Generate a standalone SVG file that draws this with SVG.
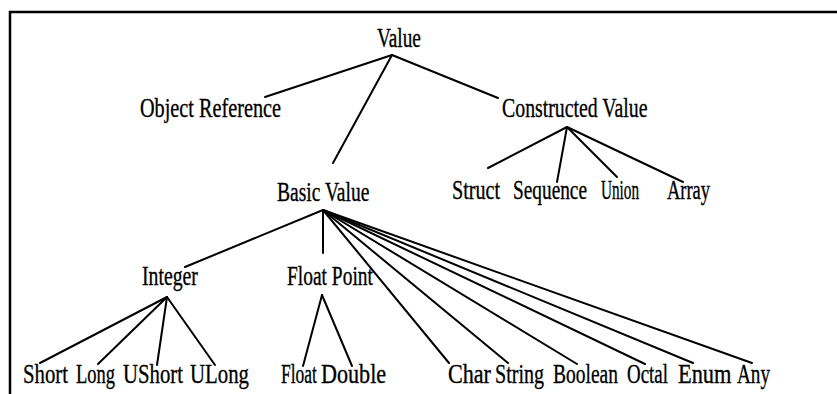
<svg xmlns="http://www.w3.org/2000/svg" width="837" height="394" viewBox="0 0 837 394">
<style>
.t{font-family:"Liberation Serif","Times New Roman",serif;font-size:28px;fill:#000;stroke:#000;stroke-width:0.35}
.c line{stroke:#000;stroke-width:2;stroke-linecap:round}
.frame{fill:none;stroke:#000;stroke-width:2.5}
</style>
<rect width="837" height="394" fill="#fff"/>
<path class="frame" d="M10,394 V12 H837"/>
<g id="connectors" class="c">
<line x1="392" y1="55" x2="265" y2="97"/>
<line x1="392" y1="55" x2="333" y2="163"/>
<line x1="392" y1="55" x2="498" y2="98"/>
<line x1="567" y1="127" x2="488" y2="168"/>
<line x1="567" y1="127" x2="557" y2="182"/>
<line x1="567" y1="127" x2="617" y2="177"/>
<line x1="567" y1="127" x2="683" y2="182"/>
<line x1="323" y1="210" x2="185" y2="267"/>
<line x1="323" y1="210" x2="323" y2="253"/>
<line x1="323" y1="210" x2="449" y2="363"/>
<line x1="323" y1="210" x2="508" y2="363"/>
<line x1="323" y1="210" x2="577" y2="364"/>
<line x1="323" y1="210" x2="645" y2="364"/>
<line x1="323" y1="210" x2="693" y2="363"/>
<line x1="323" y1="210" x2="752" y2="363"/>
<line x1="167" y1="297" x2="40" y2="363"/>
<line x1="167" y1="297" x2="98" y2="364"/>
<line x1="167" y1="297" x2="157" y2="365"/>
<line x1="167" y1="297" x2="215" y2="365"/>
<line x1="322" y1="295" x2="303" y2="366"/>
<line x1="322" y1="295" x2="352" y2="366"/>
</g>
<g id="value"><text class="t" transform="translate(377,47) scale(0.688,1)">Value</text></g>
<g id="object-reference"><text class="t" transform="translate(140,117) scale(0.723,1)">Object Reference</text></g>
<g id="constructed-value"><text class="t" transform="translate(502,117) scale(0.708,1)">Constructed Value</text></g>
<g id="basic-value"><text class="t" transform="translate(277,201) scale(0.698,1)">Basic Value</text></g>
<g id="struct"><text class="t" transform="translate(452,199) scale(0.718,1)">Struct</text></g>
<g id="sequence"><text class="t" transform="translate(513,199) scale(0.69,1)">Sequence</text></g>
<g id="union"><text class="t" transform="translate(601,199) scale(0.543,1)">Union</text></g>
<g id="array"><text class="t" transform="translate(667,199) scale(0.659,1)">Array</text></g>
<g id="integer"><text class="t" transform="translate(142,285) scale(0.706,1)">Integer</text></g>
<g id="float-point"><text class="t" transform="translate(287,285) scale(0.695,1)">Float Point</text></g>
<g id="short"><text class="t" transform="translate(23,383) scale(0.742,1)">Short</text></g>
<g id="long"><text class="t" transform="translate(76,383) scale(0.66,1)">Long</text></g>
<g id="ushort"><text class="t" transform="translate(123,383) scale(0.742,1)">UShort</text></g>
<g id="ulong"><text class="t" transform="translate(190,383) scale(0.744,1)">ULong</text></g>
<g id="float"><text class="t" transform="translate(281,383) scale(0.625,1)">Float</text></g>
<g id="double"><text class="t" transform="translate(321,383) scale(0.79,1)">Double</text></g>
<g id="char"><text class="t" transform="translate(448,383) scale(0.79,1)">Char</text></g>
<g id="string"><text class="t" transform="translate(495,383) scale(0.716,1)">String</text></g>
<g id="boolean"><text class="t" transform="translate(553,383) scale(0.696,1)">Boolean</text></g>
<g id="octal"><text class="t" transform="translate(627,383) scale(0.676,1)">Octal</text></g>
<g id="enum"><text class="t" transform="translate(678,383) scale(0.80,1)">Enum</text></g>
<g id="any"><text class="t" transform="translate(737,383) scale(0.685,1)">Any</text></g>
</svg>
